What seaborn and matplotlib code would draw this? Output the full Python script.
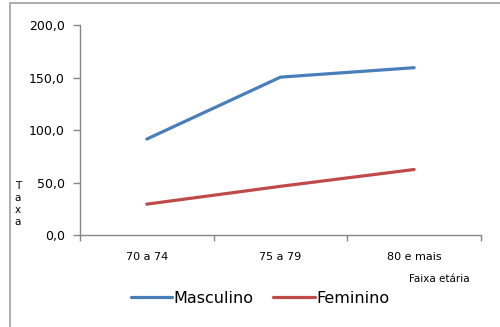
import matplotlib
matplotlib.use("Agg")
import matplotlib.pyplot as plt
import seaborn as sns
import pandas as pd
from matplotlib.patches import Rectangle

# dados do gráfico
faixas = ["70 a 74", "75 a 79", "80 e mais"]
masculino = [91.5, 150.5, 159.5]
feminino = [29.5, 46.5, 62.5]
yticks = [0, 50, 100, 150, 200]

df = pd.DataFrame({
    "faixa": faixas * 2,
    "taxa": masculino + feminino,
    "sexo": ["Masculino"] * 3 + ["Feminino"] * 3,
})
df["x"] = list(range(len(faixas))) * 2

sns.set_style("white")
plt.rcParams['font.family'] = ['DejaVu Sans']
plt.rcParams['text.color'] = 'black'

fig = plt.figure(figsize=(5, 3.27), dpi=100)
ax = fig.add_axes([0.16, 0.281, 0.802, 0.642])

sns.lineplot(data=df, x="x", y="taxa", hue="sexo",
             palette={"Masculino": "#4A7EBB", "Feminino": "#BE4B48"},
             linewidth=2.3, ax=ax, legend=False)

ax.set_xlim(-0.5, 2.5)
ax.set_ylim(0, 200)
ax.set_yticks(yticks)
ax.set_yticklabels([f"{v:.1f}".replace(".", ",") for v in yticks], fontsize=9)
ax.set_xticks(range(len(faixas)))
ax.set_xticklabels(faixas, fontsize=8)
ax.set_xticks([-0.5, 0.5, 1.5, 2.5], minor=True)
ax.tick_params(axis="x", which="major", length=0, pad=12, labelcolor="black")
ax.tick_params(axis="x", which="minor", bottom=True, length=4, width=1,
               color="#868686", direction="out")
ax.tick_params(axis="y", left=True, length=5, width=1, color="#868686",
               direction="out", pad=6, labelcolor="black")
ax.set_xlabel("")
ax.set_ylabel("")
for s in ["top", "right"]:
    ax.spines[s].set_visible(False)
for s in ["left", "bottom"]:
    ax.spines[s].set_color("#868686")
    ax.spines[s].set_linewidth(1)

fig.text(0.036, 0.445, "T\na\nx\na", fontsize=7.5, ha="center", va="top", linespacing=1.25)
fig.text(0.94, 0.148, "Faixa etária", fontsize=7.5, ha="right", va="center")

# legenda
handles = [plt.Line2D([], [], color="#4A7EBB", linewidth=2.3),
           plt.Line2D([], [], color="#BE4B48", linewidth=2.3)]
fig.legend(handles, ["Masculino", "Feminino"], loc="center", bbox_to_anchor=(0.52, 0.087),
           ncol=2, frameon=False, fontsize=11.5, handlelength=2.6, handletextpad=0.1,
           columnspacing=1.2)

# borda do gráfico
fig.patches.append(Rectangle((0.02, -0.1), 1.1, 1.09, transform=fig.transFigure,
                             fill=False, edgecolor="#A0A0A0", linewidth=1.2))

fig.savefig("out.png", dpi=100)
